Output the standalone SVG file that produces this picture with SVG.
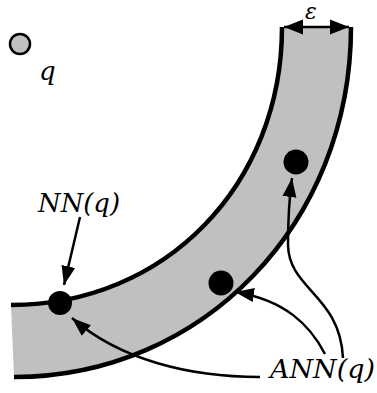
<svg xmlns="http://www.w3.org/2000/svg" width="377" height="393" viewBox="0 0 377 393">
<style>
.t{font-family:'DejaVu Serif','Liberation Serif',serif;font-style:italic;fill:#000}
.edge{fill:none;stroke:#000;stroke-width:4.5}
.con{fill:none;stroke:#000;stroke-width:2.5}
.pt{fill:#000}
</style>
<defs>
<marker id="ah" markerUnits="userSpaceOnUse" markerWidth="20" markerHeight="16" viewBox="0 0 20 16" refX="19" refY="8" orient="auto">
<path d="M0,1 L19,8 L0,15 Z" fill="#000"/>
</marker>
<marker id="ahs" markerUnits="userSpaceOnUse" markerWidth="20" markerHeight="16" viewBox="0 0 20 16" refX="19" refY="8" orient="auto-start-reverse">
<path d="M0,0.5 L19,8 L0,15.5 Z" fill="#000"/>
</marker>
</defs>
<g id="band">
<path d="M282,27 L351,27 C351,223 203,377 14,377 L11,305 C165,305 282,185 282,27 Z" fill="#c0c0c0"/>
<path class="edge" d="M11,305 C165,305 282,185 282,27"/>
<path class="edge" d="M14,377 C203,377 351,223 351,27"/>
</g>
<g id="query">
<circle cx="20" cy="44" r="10" fill="#c0c0c0" stroke="#000" stroke-width="2.5"/>
<text class="t" x="39" y="80" font-size="26">q</text>
</g>
<g id="nn"><circle class="pt" cx="60" cy="303" r="12"/></g>
<g id="ann1"><circle class="pt" cx="221" cy="283" r="12.5"/></g>
<g id="ann2"><circle class="pt" cx="296" cy="162" r="12.5"/></g>
<g id="labels">
<text class="t" x="38" y="212" font-size="26" textLength="82" lengthAdjust="spacingAndGlyphs">NN(q)</text>
<text class="t" x="270" y="378" font-size="26" textLength="105" lengthAdjust="spacingAndGlyphs">ANN(q)</text>
<text class="t" x="311" y="19" font-size="22" text-anchor="middle">ε</text>
</g>
<g id="connectors">
<path class="con" d="M284,27 L349,27" marker-start="url(#ahs)" marker-end="url(#ahs)"/>
<path class="con" d="M80,217 L64,285" marker-end="url(#ah)"/>
<path class="con" d="M260,377 C190,377 120,360 72,318" marker-end="url(#ah)"/>
<path class="con" d="M325,354 C310,325 285,300 235,292" marker-end="url(#ah)"/>
<path class="con" d="M343,358 C340,295 289,290 288,245 C288,220 289,200 292,178" marker-end="url(#ah)"/>
</g>
</svg>
